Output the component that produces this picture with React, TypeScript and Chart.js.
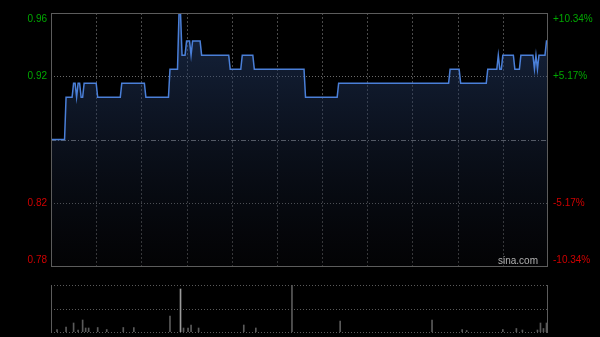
import React, { useEffect, useRef } from "react";
import { Chart, registerables } from "chart.js";

Chart.register(...registerables);

// ---- data ----
const prevClose = 0.87;
const priceMin = 0.78;
const priceMax = 0.96;
const sessionMinutes = 330; // 09:30-12:00, 13:00-16:00
const gridMinutes = [30, 60, 90, 120, 150, 180, 210, 240, 270, 300];
const priceTicks = [0.96, 0.915, 0.825, 0.78];
const priceTickLabels = ["0.96", "0.92", "0.82", "0.78"];
const pctTickLabels = ["+10.34%", "+5.17%", "-5.17%", "-10.34%"];

// one price per minute, minutes 0..330
const prices = [
  0.87, 0.87, 0.87, 0.87, 0.87, 0.87, 0.87, 0.87, 0.87, 0.87,
  0.90, 0.90, 0.90, 0.90, 0.90, 0.91, 0.91, 0.90, 0.91, 0.91,
  0.90, 0.90, 0.91, 0.91, 0.91, 0.91, 0.91, 0.91, 0.91, 0.91,
  0.91, 0.90, 0.90, 0.90, 0.90, 0.90, 0.90, 0.90, 0.90, 0.90,
  0.90, 0.90, 0.90, 0.90, 0.90, 0.90, 0.90, 0.91, 0.91, 0.91,
  0.91, 0.91, 0.91, 0.91, 0.91, 0.91, 0.91, 0.91, 0.91, 0.91,
  0.91, 0.91, 0.91, 0.90, 0.90, 0.90, 0.90, 0.90, 0.90, 0.90,
  0.90, 0.90, 0.90, 0.90, 0.90, 0.90, 0.90, 0.90, 0.90, 0.92,
  0.92, 0.92, 0.92, 0.92, 0.92, 0.96, 0.96, 0.93, 0.93, 0.93,
  0.94, 0.94, 0.94, 0.93, 0.94, 0.94, 0.94, 0.94, 0.94, 0.94,
  0.93, 0.93, 0.93, 0.93, 0.93, 0.93, 0.93, 0.93, 0.93, 0.93,
  0.93, 0.93, 0.93, 0.93, 0.93, 0.93, 0.93, 0.93, 0.93, 0.92,
  0.92, 0.92, 0.92, 0.92, 0.92, 0.92, 0.92, 0.93, 0.93, 0.93,
  0.93, 0.93, 0.93, 0.93, 0.93, 0.92, 0.92, 0.92, 0.92, 0.92,
  0.92, 0.92, 0.92, 0.92, 0.92, 0.92, 0.92, 0.92, 0.92, 0.92,
  0.92, 0.92, 0.92, 0.92, 0.92, 0.92, 0.92, 0.92, 0.92, 0.92,
  0.92, 0.92, 0.92, 0.92, 0.92, 0.92, 0.92, 0.92, 0.92, 0.90,
  0.90, 0.90, 0.90, 0.90, 0.90, 0.90, 0.90, 0.90, 0.90, 0.90,
  0.90, 0.90, 0.90, 0.90, 0.90, 0.90, 0.90, 0.90, 0.90, 0.90,
  0.90, 0.91, 0.91, 0.91, 0.91, 0.91, 0.91, 0.91, 0.91, 0.91,
  0.91, 0.91, 0.91, 0.91, 0.91, 0.91, 0.91, 0.91, 0.91, 0.91,
  0.91, 0.91, 0.91, 0.91, 0.91, 0.91, 0.91, 0.91, 0.91, 0.91,
  0.91, 0.91, 0.91, 0.91, 0.91, 0.91, 0.91, 0.91, 0.91, 0.91,
  0.91, 0.91, 0.91, 0.91, 0.91, 0.91, 0.91, 0.91, 0.91, 0.91,
  0.91, 0.91, 0.91, 0.91, 0.91, 0.91, 0.91, 0.91, 0.91, 0.91,
  0.91, 0.91, 0.91, 0.91, 0.91, 0.91, 0.91, 0.91, 0.91, 0.91,
  0.91, 0.91, 0.91, 0.91, 0.91, 0.92, 0.92, 0.92, 0.92, 0.92,
  0.92, 0.92, 0.91, 0.91, 0.91, 0.91, 0.91, 0.91, 0.91, 0.91,
  0.91, 0.91, 0.91, 0.91, 0.91, 0.91, 0.91, 0.91, 0.91, 0.91,
  0.92, 0.92, 0.92, 0.92, 0.92, 0.92, 0.92, 0.93, 0.92, 0.92,
  0.93, 0.93, 0.93, 0.93, 0.93, 0.93, 0.93, 0.93, 0.92, 0.92,
  0.92, 0.92, 0.93, 0.93, 0.93, 0.93, 0.93, 0.93, 0.93, 0.93,
  0.93, 0.92, 0.93, 0.92, 0.93, 0.93, 0.93, 0.93, 0.93, 0.94,
  0.94,
];

// traded volume (thousand shares) at the minutes where a bar is visible
const volumeMinutes = [4, 10, 15, 18, 21, 23, 25, 31, 37, 48, 55, 79, 86, 88, 91, 93, 98, 128, 136, 160, 192, 253, 273, 276, 300, 309, 313, 323, 325, 327, 329];
const volumeValues = [25, 50, 90, 20, 120, 40, 40, 45, 25, 45, 45, 160, 430, 40, 40, 70, 40, 70, 40, 470, 110, 120, 25, 15, 25, 35, 20, 20, 90, 35, 90];
const volumeHighlightMinutes = [86];

const FONT = '"Liberation Sans", Arial, sans-serif';

const mainPlugin = {
  id: "mainDecor",
  beforeDatasetsDraw(chart: any) {
    const { ctx, chartArea: ca, scales } = chart;
    const x = scales.x;
    const y = scales.y;
    ctx.save();
    ctx.lineWidth = 1;
    ctx.strokeStyle = "#4a4a4a";
    ctx.setLineDash([2, 2]);
    gridMinutes.forEach((m) => {
      const px = Math.round(x.getPixelForValue(m)) + 0.5;
      ctx.beginPath();
      ctx.moveTo(px, ca.top);
      ctx.lineTo(px, ca.bottom);
      ctx.stroke();
    });
    ctx.strokeStyle = "#6a6a6a";
    ctx.setLineDash([1, 2]);
    [priceTicks[1], priceTicks[2]].forEach((v) => {
      const py = Math.round(y.getPixelForValue(v)) + 0.5;
      ctx.beginPath();
      ctx.moveTo(ca.left, py);
      ctx.lineTo(ca.right, py);
      ctx.stroke();
    });
    ctx.strokeStyle = "#7a7a7a";
    ctx.setLineDash([5, 2, 1, 2]);
    const pc = Math.round(y.getPixelForValue(prevClose)) + 0.5;
    ctx.beginPath();
    ctx.moveTo(ca.left, pc);
    ctx.lineTo(ca.right, pc);
    ctx.stroke();
    ctx.restore();
  },
  afterDraw(chart: any) {
    const { ctx, chartArea: ca, scales } = chart;
    const y = scales.y;
    ctx.save();
    ctx.strokeStyle = "#5c5c5c";
    ctx.lineWidth = 1;
    ctx.setLineDash([]);
    ctx.strokeRect(ca.left + 0.5, ca.top + 0.5, ca.right - ca.left - 1, ca.bottom - ca.top);
    ctx.font = "10px " + FONT;
    ctx.textBaseline = "middle";
    priceTicks.forEach((v, i) => {
      let py = y.getPixelForValue(v);
      py = Math.min(Math.max(py, ca.top + 6), ca.bottom - 6);
      ctx.fillStyle = v > prevClose ? "#00a800" : "#d00000";
      ctx.textAlign = "right";
      ctx.fillText(priceTickLabels[i], ca.left - 4, py);
      ctx.textAlign = "left";
      ctx.fillText(pctTickLabels[i], ca.right + 5, py);
    });
    ctx.fillStyle = "#b0b0b0";
    ctx.textAlign = "right";
    ctx.fillText("sina.com", ca.right - 10, ca.bottom - 5);
    ctx.restore();
  },
};

const volumePlugin = {
  id: "volDecor",
  beforeDatasetsDraw(chart: any) {
    const { ctx, chartArea: ca } = chart;
    ctx.save();
    ctx.lineWidth = 1;
    ctx.strokeStyle = "#5a5a5a";
    ctx.setLineDash([1, 2]);
    [ca.top, (ca.top + ca.bottom) / 2, ca.bottom].forEach((yy) => {
      const py = Math.round(yy) + 0.5;
      ctx.beginPath();
      ctx.moveTo(ca.left, py);
      ctx.lineTo(ca.right, py);
      ctx.stroke();
    });
    ctx.restore();
  },
  afterDraw(chart: any) {
    const { ctx, chartArea: ca } = chart;
    ctx.save();
    ctx.lineWidth = 1;
    ctx.strokeStyle = "#5c5c5c";
    ctx.setLineDash([]);
    [ca.left + 0.5, ca.right - 0.5].forEach((px) => {
      ctx.beginPath();
      ctx.moveTo(px, ca.top);
      ctx.lineTo(px, ca.bottom + 1);
      ctx.stroke();
    });
    ctx.restore();
  },
};

export default function App() {
  const priceRef = useRef<HTMLCanvasElement>(null);
  const volRef = useRef<HTMLCanvasElement>(null);

  useEffect(() => {
    document.body.style.margin = "0";
    document.body.style.background = "#000";
    const priceChart = new Chart(priceRef.current as HTMLCanvasElement, {
      type: "line",
      data: {
        datasets: [
          {
            data: prices.map((p, i) => ({ x: i, y: p })),
            borderColor: "#4a7fd8",
            borderWidth: 1.5,
            pointRadius: 0,
            tension: 0,
            fill: "start",
            backgroundColor: (c: any) => {
              const ca = c.chart.chartArea;
              if (!ca) return "rgba(0,0,0,0)";
              const g = c.chart.ctx.createLinearGradient(0, ca.top, 0, ca.bottom);
              g.addColorStop(0, "rgba(45,75,130,0.5)");
              g.addColorStop(1, "rgba(10,10,15,0.3)");
              return g;
            },
          },
        ],
      },
      options: {
        responsive: false,
        animation: false,
        layout: { padding: { left: 51, right: 52, top: 13, bottom: 9 } },
        plugins: { legend: { display: false }, tooltip: { enabled: false } },
        scales: {
          x: { type: "linear", min: 0, max: sessionMinutes, display: false },
          y: { type: "linear", min: priceMin, max: priceMax, display: false },
        },
      },
      plugins: [mainPlugin],
    } as any);

    const volMax = Math.max(...volumeValues);
    const volChart = new Chart(volRef.current as HTMLCanvasElement, {
      type: "bar",
      data: {
        datasets: [
          {
            data: volumeMinutes.map((m, i) => ({ x: m, y: volumeValues[i] })),
            backgroundColor: (c: any) =>
              c.raw && volumeHighlightMinutes.includes(c.raw.x) ? "#9a9a9a" : "#5a5a5a",
            barThickness: 1,
            borderWidth: 0,
          },
        ],
      },
      options: {
        responsive: false,
        animation: false,
        layout: { padding: { left: 51, right: 52, top: 10, bottom: 5 } },
        plugins: { legend: { display: false }, tooltip: { enabled: false } },
        scales: {
          x: { type: "linear", min: 0, max: sessionMinutes, offset: false, display: false },
          y: { type: "linear", min: 0, max: volMax, display: false },
        },
      },
      plugins: [volumePlugin],
    } as any);

    return () => {
      priceChart.destroy();
      volChart.destroy();
    };
  }, []);

  return (
    <div style={{ position: "relative", width: 600, height: 337, background: "#000", overflow: "hidden" }}>
      <canvas ref={priceRef} width={600} height={275} style={{ position: "absolute", left: 0, top: 0, display: "block" }} />
      <canvas ref={volRef} width={600} height={62} style={{ position: "absolute", left: 0, top: 275, display: "block" }} />
    </div>
  );
}
